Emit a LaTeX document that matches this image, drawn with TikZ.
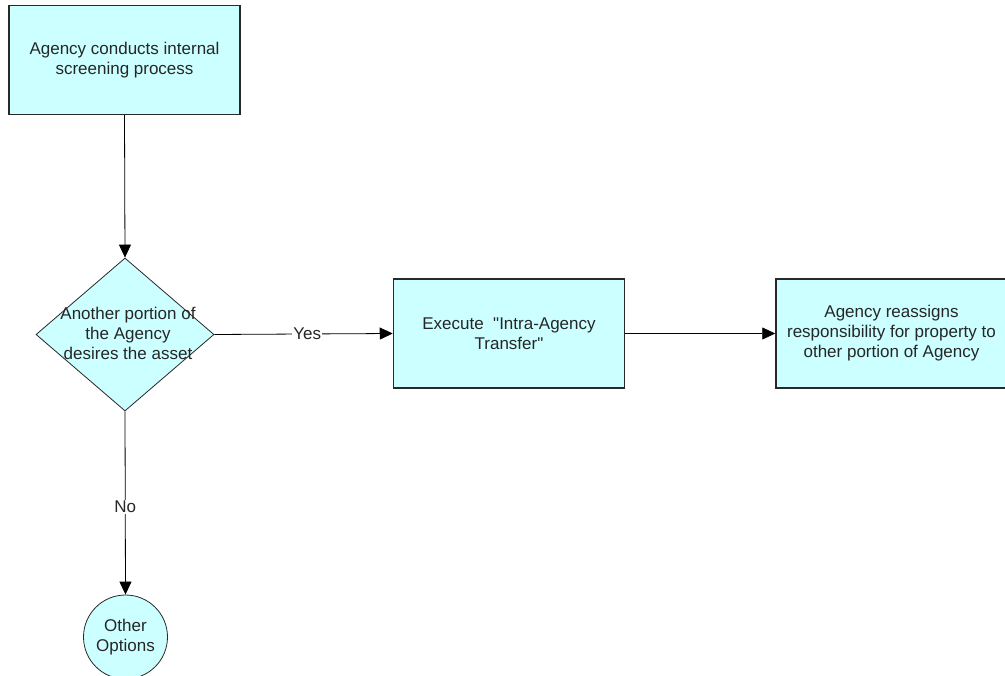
\documentclass[tikz,border=0pt]{standalone}
\usepackage{fontspec}
\setmainfont{Liberation Sans}
\usetikzlibrary{shapes.geometric,arrows.meta}
\definecolor{boxfill}{RGB}{204,255,255}
\definecolor{boxline}{RGB}{40,40,40}
\begin{document}
\begin{tikzpicture}[x=1pt,y=-1pt,
  every node/.style={font=\fontsize{17}{20}\selectfont,text=black!85},
  procbox/.style={draw=boxline,line width=1.5pt,fill=boxfill,minimum width=231pt,minimum height=109pt,align=center,inner sep=0pt},
  decision/.style={draw=boxline,line width=0.8pt,fill=boxfill,diamond,minimum width=178pt,minimum height=153pt,inner sep=0pt},
  termcircle/.style={draw=boxline,line width=0.8pt,fill=boxfill,circle,minimum size=84pt,inner sep=0pt,align=center},
  conn/.style={draw=black,line width=0.8pt,-{Triangle[length=13pt,width=12pt]}},
  lbl/.style={fill=white,inner sep=1pt}]
\useasboundingbox (0,0) rectangle (1005,676);
\node[procbox] (screen) at (124.5,60) {Agency conducts internal\\screening process};
\node[decision] (desire) at (125,334.5) {};
\node[align=center] (desiretxt) at (128,333) {Another portion of\\the Agency\\desires the asset};
\node[procbox] (execute) at (509,333.5) {Execute\ \ \textquotedbl Intra-Agency\\Transfer\textquotedbl};
\node[procbox] (reassign) at (891.5,333.5) {Agency reassigns\\responsibility for property to\\other portion of Agency};
\node[termcircle] (other) at (125.5,637) {Other\\Options};
\draw[conn] (screen.south) -- (desire.north);
\draw[conn] (desire.east) -- node[lbl,pos=0.52] (yes) {Yes} (execute.west);
\draw[conn] (execute.east) -- (reassign.west);
\draw[conn] (desire.south) -- node[lbl,pos=0.52] (no) {No} (other.north);
\end{tikzpicture}
\end{document}
